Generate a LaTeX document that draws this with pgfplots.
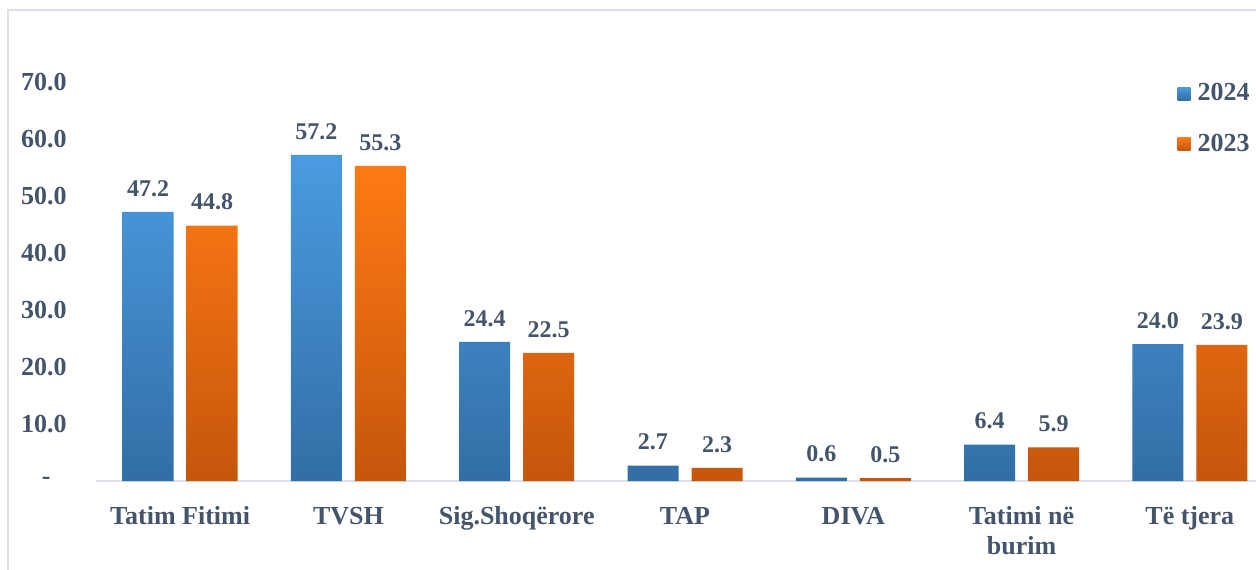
\documentclass[border=0pt]{standalone}
\usepackage{pgfplots}
\pgfplotsset{compat=1.18}
\usepackage{fontspec}
\setmainfont{Liberation Serif}

\definecolor{txt}{HTML}{44546A}
\definecolor{bluetop}{HTML}{4A9BE2}
\definecolor{bluebot}{HTML}{326EA5}
\definecolor{orgtop}{HTML}{FF7A14}
\definecolor{orgbot}{HTML}{C5560C}
\definecolor{frame}{HTML}{DADFE8}

\newcommand{\lbl}{\fontsize{13}{15}\selectfont\bfseries\color{txt}}
\newcommand{\val}{\fontsize{12}{14}\selectfont\bfseries\color{txt}}

\begin{document}
\begin{tikzpicture}
\begin{axis}[
  at={(0,0)}, anchor=south west,
  scale only axis,
  width=589pt, height=199.5pt,
  ybar=6.5pt, bar width=25.5pt,
  xmin=-0.5, xmax=6.5,
  ymin=0, ymax=70,
  xtick={0,...,6},
  xticklabels={Tatim Fitimi, TVSH, Sig.Shoqërore, TAP, DIVA, Tatimi në\\burim, Të tjera},
  ytick={0,10,...,70},
  yticklabels={-\kern8pt, 10.0, 20.0, 30.0, 40.0, 50.0, 60.0, 70.0},
  tick style={draw=none},
  separate axis lines,
  axis x line*=bottom, axis y line*=left,
  x axis line style={draw=frame, line width=1pt},
  y axis line style={draw=none},
  xticklabel style={font=\lbl, anchor=north, align=center, inner sep=0pt, yshift=-8.5pt},
  yticklabel style={font=\lbl, anchor=east, inner sep=0pt, xshift=-14.5pt},
  nodes near coords,
  nodes near coords style={font=\val, anchor=south, inner sep=0pt, yshift=7.5pt,
    /pgf/number format/.cd, fixed, fixed zerofill, precision=1, assume math mode=true},
  legend cell align=left,
  legend style={at={(0.9128,1.0125)}, anchor=north west, draw=none, fill=none,
    font=\lbl, row sep=13pt, nodes={inner sep=1pt}},
  clip=false,
]

% 2024
\addplot[draw=none, top color=bluetop, bottom color=bluebot,
  legend image code/.code={\shade[top color=bluetop, bottom color=bluebot] (0pt,-3.25pt) rectangle (6.5pt,3.25pt); \path (9pt,0pt);}]
  coordinates {(0,47.2) (1,57.2) (2,24.4) (3,2.7) (4,0.6) (5,6.4) (6,24.0)};
\addlegendentry{2024}

% 2023
\addplot[draw=none, top color=orgtop, bottom color=orgbot,
  legend image code/.code={\shade[top color=orgtop, bottom color=orgbot] (0pt,-3.25pt) rectangle (6.5pt,3.25pt); \path (9pt,0pt);}]
  coordinates {(0,44.8) (1,55.3) (2,22.5) (3,2.3) (4,0.5) (5,5.9) (6,23.9)};
\addlegendentry{2023}

\end{axis}

% outer chart frame (only its top and left edges fall inside the picture)
\pgfresetboundingbox
\useasboundingbox (-48pt,-44pt) rectangle (580pt,240.5pt);
\draw[frame, line width=1pt] (-44pt,-50pt) -- (-44pt,235.5pt) -- (590pt,235.5pt);
\end{tikzpicture}
\end{document}
